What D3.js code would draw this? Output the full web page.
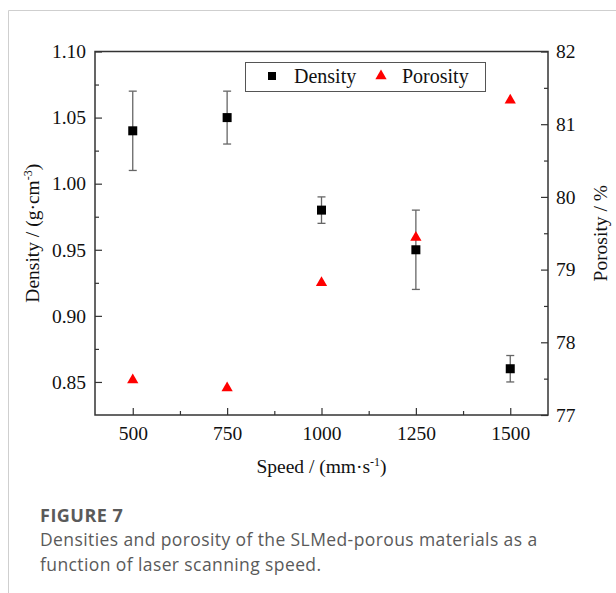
<!DOCTYPE html>
<html>
<head>
<meta charset="utf-8">
<script src="https://cdn.jsdelivr.net/npm/d3@7"></script>
<style>
  body { margin: 0; background: #fff; }
  svg text { font-family: "Liberation Serif", "Times New Roman", serif; }
</style>
</head>
<body>
<div id="chart"></div>
<script>
// data
const speeds = [500, 750, 1000, 1250, 1500];
const density = [1.04, 1.05, 0.98, 0.95, 0.86];
const densityErr = [0.03, 0.02, 0.01, 0.03, 0.01];
const porosity = [77.48, 77.37, 78.82, 79.44, 81.33];
const xTicks = [500, 750, 1000, 1250, 1500];
const yTicks = [0.85, 0.90, 0.95, 1.00, 1.05, 1.10];
const y2Ticks = [77, 78, 79, 80, 81, 82];

const W = 616, H = 593;
const margin = {top: 51.5, right: 68, bottom: 178, left: 95};
const width = W - margin.left - margin.right,
      height = H - margin.top - margin.bottom;

const svg = d3.select("#chart")
    .append("svg")
    .attr("width", W)
    .attr("height", H);

// figure frame lines (top and left)
svg.append("line").attr("x1", 8.5).attr("x2", W).attr("y1", 10.5).attr("y2", 10.5)
    .attr("stroke", "#cfcfcf").attr("stroke-width", 1);
svg.append("line").attr("x1", 8.5).attr("x2", 8.5).attr("y1", 10.5).attr("y2", H)
    .attr("stroke", "#cfcfcf").attr("stroke-width", 1);

const g = svg.append("g")
    .attr("transform", `translate(${margin.left}, ${margin.top})`);

const x = d3.scaleLinear().domain([400, 1600]).range([0, width]);
const y = d3.scaleLinear().domain([0.825, 1.10]).range([height, 0]);
const y2 = d3.scaleLinear().domain([77, 82]).range([height, 0]);

const axisColor = "#333";

function styleAxis(sel) {
    sel.attr("font-family", "Liberation Serif").attr("font-size", 19.5);
    sel.select(".domain").remove();
    sel.selectAll(".tick line").attr("stroke", axisColor).attr("stroke-width", 1.2);
    sel.selectAll(".tick text").attr("fill", "#111")
        .attr("font-family", "Liberation Serif")
        .style("font-family", "'Liberation Serif', serif")
        .style("font-size", "19.5px");
}

// minor ticks
const xMinor = [625, 875, 1125, 1375];
const yMinor = [0.875, 0.925, 0.975, 1.025, 1.075];
const y2Minor = [77.5, 78.5, 79.5, 80.5, 81.5];

g.append("g").attr("transform", `translate(0, ${height})`)
    .call(d3.axisBottom(x).tickValues(xMinor).tickSize(-4).tickFormat(""))
    .call(styleAxis);
g.append("g")
    .call(d3.axisLeft(y).tickValues(yMinor).tickSize(-4).tickFormat(""))
    .call(styleAxis);
g.append("g").attr("transform", `translate(${width}, 0)`)
    .call(d3.axisRight(y2).tickValues(y2Minor).tickSize(-4).tickFormat(""))
    .call(styleAxis);

// major ticks
g.append("g").attr("transform", `translate(0, ${height})`)
    .call(d3.axisBottom(x).tickValues(xTicks).tickSizeInner(-7).tickPadding(11).tickFormat(d3.format("d")))
    .call(styleAxis);
g.append("g")
    .call(d3.axisLeft(y).tickValues(yTicks).tickSizeInner(-7).tickPadding(9).tickFormat(d3.format(".2f")))
    .call(styleAxis);
g.append("g").attr("transform", `translate(${width}, 0)`)
    .call(d3.axisRight(y2).tickValues(y2Ticks).tickSizeInner(-7).tickPadding(8).tickFormat(d3.format("d")))
    .call(styleAxis);

// frame
g.append("rect")
    .attr("x", 0).attr("y", 0)
    .attr("width", width).attr("height", height)
    .attr("fill", "none")
    .attr("stroke", axisColor)
    .attr("stroke-width", 1.5);

// error bars
const dens = speeds.map((s, i) => ({s: s, v: density[i], e: densityErr[i], p: porosity[i]}));
const eb = g.append("g").attr("stroke", "#666").attr("stroke-width", 1.3);
eb.selectAll("line.v").data(dens).join("line")
    .attr("x1", d => x(d.s)).attr("x2", d => x(d.s))
    .attr("y1", d => y(d.v + d.e)).attr("y2", d => y(d.v - d.e));
eb.selectAll("line.t").data(dens).join("line")
    .attr("x1", d => x(d.s) - 4).attr("x2", d => x(d.s) + 4)
    .attr("y1", d => y(d.v + d.e)).attr("y2", d => y(d.v + d.e));
eb.selectAll("line.b").data(dens).join("line")
    .attr("x1", d => x(d.s) - 4).attr("x2", d => x(d.s) + 4)
    .attr("y1", d => y(d.v - d.e)).attr("y2", d => y(d.v - d.e));

// density squares
g.append("g").selectAll("rect").data(dens).join("rect")
    .attr("x", d => x(d.s) - 4.5).attr("y", d => y(d.v) - 4.5)
    .attr("width", 9).attr("height", 9)
    .attr("fill", "#000");

// porosity triangles
const tri = d3.symbol().type(d3.symbolTriangle).size(55);
g.append("g").selectAll("path").data(dens).join("path")
    .attr("d", tri)
    .attr("transform", d => `translate(${x(d.s)}, ${y2(d.p)})`)
    .attr("fill", "#ff0000");

// legend
const lg = svg.append("g");
lg.append("rect").attr("x", 245.5).attr("y", 62.5).attr("width", 240).attr("height", 29)
    .attr("fill", "#fff").attr("stroke", "#555").attr("stroke-width", 1);
lg.append("rect").attr("x", 268).attr("y", 72).attr("width", 8).attr("height", 8).attr("fill", "#000");
lg.append("text").attr("x", 294).attr("y", 83).style("font-size", "20px").attr("fill", "#111").text("Density");
lg.append("path").attr("d", tri).attr("transform", "translate(381, 76)").attr("fill", "#ff0000");
lg.append("text").attr("x", 402).attr("y", 83).style("font-size", "20px").attr("fill", "#111").text("Porosity");

// axis titles
const xt = svg.append("text")
    .attr("x", margin.left + width / 2).attr("y", 473)
    .attr("text-anchor", "middle").style("font-size", "19.5px").attr("fill", "#111");
xt.append("tspan").text("Speed / (mm\u00b7s");
xt.append("tspan").attr("dy", -7).style("font-size", "12px").text("-1");
xt.append("tspan").attr("dy", 7).text(")");

const yt = svg.append("text")
    .attr("transform", `translate(39, ${margin.top + height / 2}) rotate(-90)`)
    .attr("text-anchor", "middle").style("font-size", "19.5px").attr("fill", "#111");
yt.append("tspan").text("Density / (g\u00b7cm");
yt.append("tspan").attr("dy", -7).style("font-size", "12px").text("-3");
yt.append("tspan").attr("dy", 7).text(")");

svg.append("text")
    .attr("transform", `translate(607, ${margin.top + height / 2}) rotate(-90)`)
    .attr("text-anchor", "middle").style("font-size", "19.5px").attr("fill", "#111")
    .text("Porosity / %");

// caption
const cap = svg.append("g").attr("fill", "#5a5a5a");
cap.append("text").attr("x", 40).attr("y", 522).style("font-size", "18px").style("font-weight", "bold")
    .style("letter-spacing", "0.5px")
    .style("font-family", "'Open Sans', sans-serif").text("FIGURE 7");
cap.append("text").attr("x", 40).attr("y", 546).style("font-size", "17.5px")
    .style("letter-spacing", "0.4px")
    .style("font-family", "'Open Sans', sans-serif").text("Densities and porosity of the SLMed-porous materials as a");
cap.append("text").attr("x", 40).attr("y", 571).style("font-size", "17.5px")
    .style("letter-spacing", "0.4px")
    .style("font-family", "'Open Sans', sans-serif").text("function of laser scanning speed.");
</script>
</body>
</html>
